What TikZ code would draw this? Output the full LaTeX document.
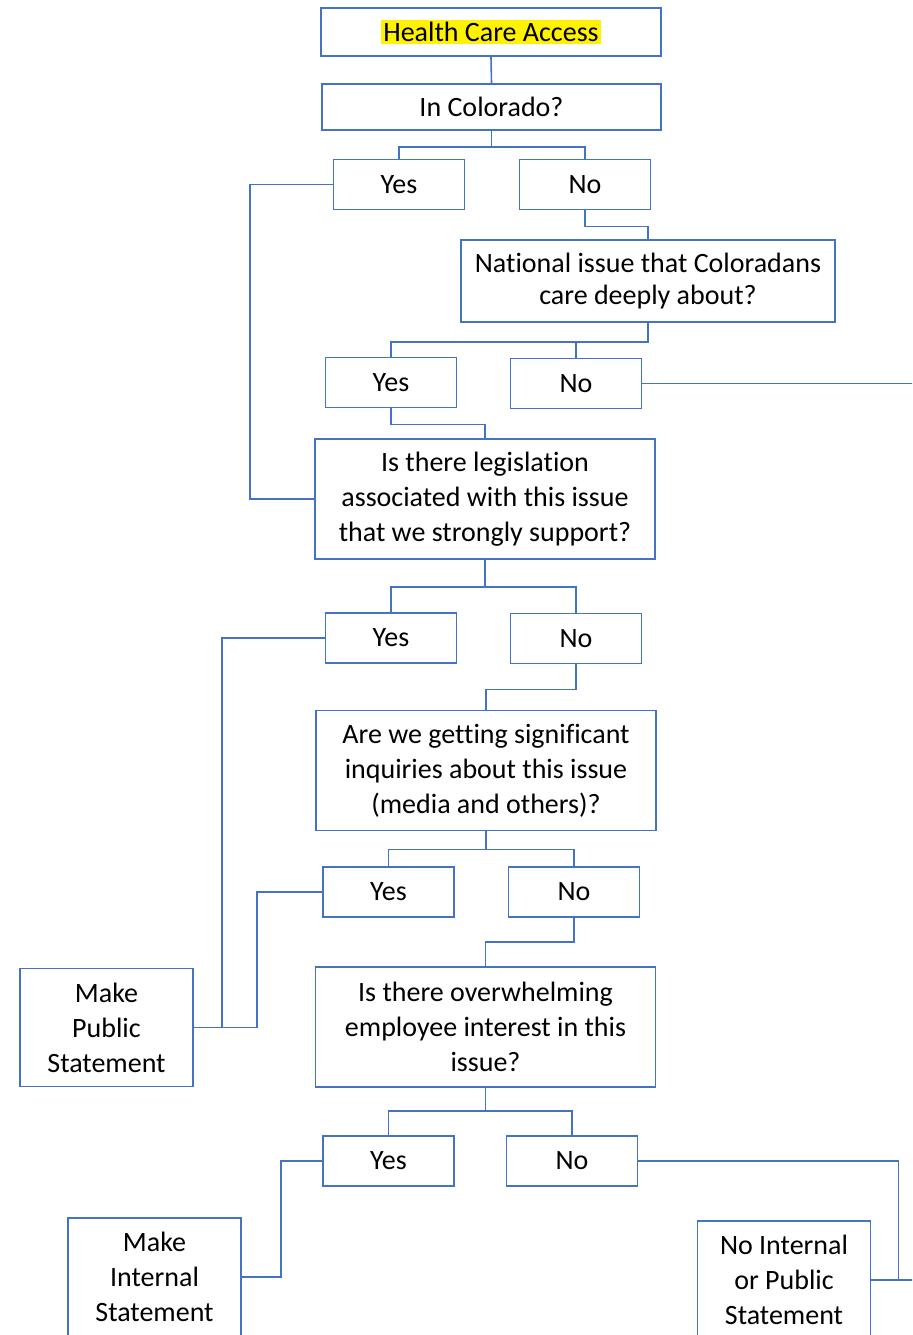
\documentclass[tikz,border=0pt]{standalone}
\usepackage{fontspec}
\setmainfont{Carlito}[Ligatures=NoCommon]
\usetikzlibrary{positioning}
\definecolor{officeblue}{RGB}{68,114,196}

\begin{document}
\begin{tikzpicture}[x=0.5pt,y=-0.5pt,
  font=\fontsize{14}{17.5}\selectfont,
  box/.style={draw=officeblue, line width=0.8pt, align=center, inner sep=2pt},
  choice/.style={box, minimum width=65.5pt, minimum height=25pt},
  wide/.style={box, minimum width=170pt, minimum height=60pt},
  endbox/.style={box, minimum width=86.5pt, minimum height=59pt},
  conn/.style={draw=officeblue, line width=0.8pt},
]
\clip (0,0) rectangle (912,1335);

% question boxes
\node[box, minimum width=170pt, minimum height=24pt] (access) at (491,32)
  {\setlength{\fboxsep}{1.2pt}\colorbox{yellow}{Health Care Access}};
\node[box, minimum width=169.5pt, minimum height=23pt] (colorado) at (491.5,107) {In Colorado?};
\node[box, minimum width=187pt, minimum height=41pt, font=\fontsize{14}{16}\selectfont] (national) at (648,281)
  {National issue that Coloradans\\care deeply about?};
\node[wide] (legislation) at (485,499) {Is there legislation\\associated with this issue\\that we strongly support?};
\node[wide] (inquiries) at (486,770.5) {Are we getting significant\\inquiries about this issue\\(media and others)?};
\node[wide] (employee) at (485.5,1027) {Is there overwhelming\\employee interest in this\\issue?};

% yes / no boxes
\node[choice] (yesA) at (399,184.5) {Yes};
\node[choice] (noA) at (585,184.5) {No};
\node[choice] (yesB) at (391,382.5) {Yes};
\node[choice] (noB) at (576,383.5) {No};
\node[choice] (yesC) at (391,638) {Yes};
\node[choice] (noC) at (576,638.5) {No};
\node[choice] (yesD) at (388.5,892) {Yes};
\node[choice] (noD) at (574,892) {No};
\node[choice] (yesE) at (388.5,1161) {Yes};
\node[choice] (noE) at (572,1161) {No};

% outcomes
\node[endbox] (public) at (106.5,1027.5) {Make\\Public\\Statement};
\node[endbox] (internal) at (154.5,1277) {Make\\Internal\\Statement};
\node[endbox] (nostatement) at (784,1280) {No Internal\\or Public\\Statement};

% connectors
\draw[conn] (access.south) -- (colorado.north);
\draw[conn] (colorado.south) -- ++(0,16) -| (yesA.north);
\draw[conn] (colorado.south) -- ++(0,16) -| (noA.north);
\draw[conn] (yesA.west) -- ++(-83,0) |- (legislation.west);
\draw[conn] (noA.south) -- ++(0,16) -| (national.north);
\draw[conn] (national.south) -- ++(0,19) -| (yesB.north);
\draw[conn] (national.south) -- ++(0,19) -| (noB.north);
\draw[conn] (noB.east) -- ++(300,0) |- (nostatement.east);
\draw[conn] (yesB.south) -- ++(0,16) -| (legislation.north);
\draw[conn] (legislation.south) -- ++(0,27) -| (yesC.north);
\draw[conn] (legislation.south) -- ++(0,27) -| (noC.north);
\draw[conn] (yesC.west) -- ++(-103,0) |- (public.east);
\draw[conn] (noC.south) -- ++(0,25) -| (inquiries.north);
\draw[conn] (inquiries.south) -- ++(0,18) -| (yesD.north);
\draw[conn] (inquiries.south) -- ++(0,18) -| (noD.north);
\draw[conn] (yesD.west) -- ++(-65,0) |- (public.east);
\draw[conn] (noD.south) -- ++(0,24) -| (employee.north);
\draw[conn] (employee.south) -- ++(0,23) -| (yesE.north);
\draw[conn] (employee.south) -- ++(0,23) -| (noE.north);
\draw[conn] (yesE.west) -- ++(-41,0) |- (internal.east);
\draw[conn] (noE.east) -- ++(260,0) |- (nostatement.east);

\end{tikzpicture}
\end{document}
